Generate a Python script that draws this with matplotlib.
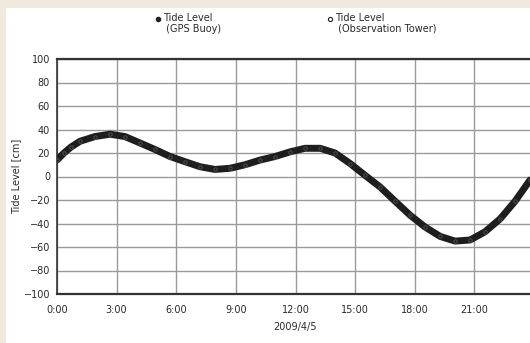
import matplotlib.pyplot as plt
from matplotlib.lines import Line2D
from matplotlib.patches import Rectangle

plt.rcParams['font.family'] = ['DejaVu Sans']

# hours after 0:00 on 2009/4/5, tide level in cm
hours = [0.0, 0.35, 0.70, 1.16, 1.91, 2.67, 3.42, 4.18, 4.93, 5.69, 6.44, 7.20,
         7.95, 8.71, 9.46, 10.22, 10.97, 11.73, 12.48, 13.24, 13.99, 14.75,
         15.50, 16.26, 17.01, 17.77, 18.52, 19.28, 20.03, 20.79, 21.54,
         22.30, 23.05, 23.80]
tide = [14, 20, 25, 30, 34, 36, 34, 28.5, 23, 17, 12.6, 8.3,
        6, 7, 10, 14, 17, 21, 24, 24, 20, 11,
        1, -9, -21, -33, -43, -51, -55, -54, -47,
        -36, -21, -3]

xticks = [0, 3, 6, 9, 12, 15, 18, 21]
xlabels = ['0:00', '3:00', '6:00', '9:00', '12:00', '15:00', '18:00', '21:00']
yticks = list(range(-100, 101, 20))

W, H = 530, 343
fs = 7
fig = plt.figure(figsize=(W / 100, H / 100), dpi=100)
fig.patch.set_facecolor('#efe9de')
fig.add_artist(Rectangle((6 / W, 0), 1, (H - 8) / H, transform=fig.transFigure,
                         facecolor='white', edgecolor='none', zorder=0))

ax = fig.add_axes([57 / W, 49 / H, 477 / W, 235 / H])
ax.set_facecolor('white')
ax.plot(hours, tide, color='#1e1e1e', lw=5, solid_capstyle='round', zorder=3)
ax.plot(hours, tide, 'o', ms=2.5, mfc='none', mec='#555555', mew=0.6, zorder=4)

ax.set_xlim(0, 24)
ax.set_ylim(-100, 100)
ax.set_xticks(xticks)
ax.set_xticklabels(xlabels)
ax.set_yticks(yticks)
ax.tick_params(length=0, labelsize=fs, labelcolor='#2a2a2a')
ax.tick_params(axis='x', pad=8)
ax.tick_params(axis='y', pad=5)
ax.grid(True, color='#9a9a9a', lw=1)
ax.set_axisbelow(True)
for side in ['top', 'bottom']:
    ax.spines[side].set_linewidth(1.6)
    ax.spines[side].set_color('#333333')
ax.spines['left'].set_linewidth(1.2)
ax.spines['left'].set_color('#333333')
ax.spines['right'].set_visible(False)

ax.set_xlabel('2009/4/5', fontsize=fs, color='#2a2a2a', labelpad=5)
ax.set_ylabel('Tide Level [cm]', fontsize=fs, color='#2a2a2a', labelpad=2)

# legend above the plot
fig.add_artist(Line2D([158 / W], [1 - 19 / H], marker='o', ms=3, color='#222222',
                      transform=fig.transFigure))
fig.add_artist(Line2D([330 / W], [1 - 19 / H], marker='o', ms=3, mfc='white',
                      mec='#222222', mew=0.8, color='#222222',
                      transform=fig.transFigure))
fig.text(163 / W, 1 - 13 / H, 'Tide Level\n (GPS Buoy)', fontsize=fs,
         color='#2a2a2a', va='top', ha='left', linespacing=1.1)
fig.text(335 / W, 1 - 13 / H, 'Tide Level\n (Observation Tower)', fontsize=fs,
         color='#2a2a2a', va='top', ha='left', linespacing=1.1)

fig.savefig('out.png', dpi=100, facecolor=fig.get_facecolor())
